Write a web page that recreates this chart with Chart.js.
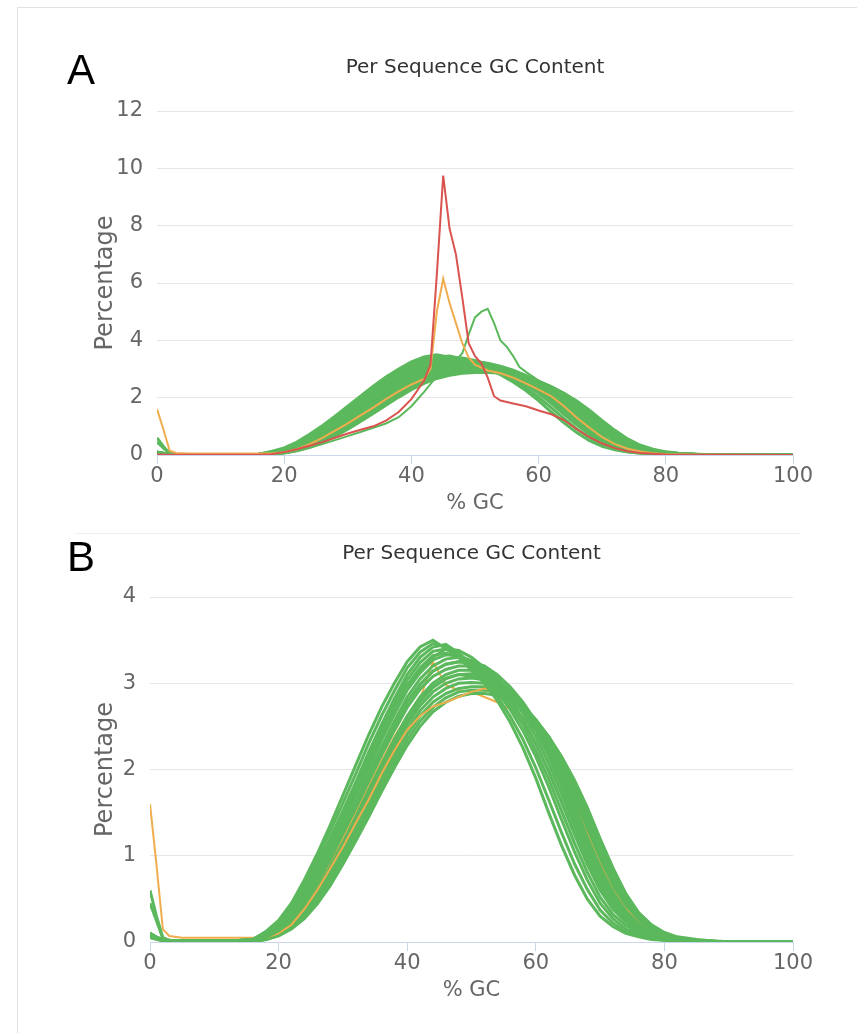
<!DOCTYPE html>
<html>
<head>
<meta charset="utf-8">
<script src="https://cdn.jsdelivr.net/npm/chart.js@4.4.1/dist/chart.umd.min.js"></script>
<style>
  html, body { margin: 0; padding: 0; background: #fff; }
  #wrap { position: relative; width: 857px; height: 1033px; overflow: hidden; }
  .frame { position: absolute; left: 17px; top: 7px; width: 860px; height: 1040px; border-left: 1px solid #e2e2e2; border-top: 1px solid #e2e2e2; }
  .sep { position: absolute; left: 75px; top: 533px; width: 725px; height: 1px; background: #f0f0f0; }
  .panel { position: absolute; font-family: "Liberation Sans", Arial, sans-serif; font-size: 42px; line-height: 42px; color: #000; }
  canvas { position: absolute; left: 0; }
</style>
</head>
<body>
<div id="wrap">
  <div class="frame"></div>
  <div class="sep"></div>
  <canvas id="cA" width="857" height="520" style="top:0"></canvas>
  <canvas id="cB" width="857" height="513" style="top:520px"></canvas>
  <div class="panel" style="left:67px; top:49px;">A</div>
  <div class="panel" style="left:67px; top:536px;">B</div>
</div>
<script>
// ---------- DATA ----------
const chartTitle = "Per Sequence GC Content";
const xAxisTitle = "% GC";
const yAxisTitle = "Percentage";
const xTicks = [0, 20, 40, 60, 80, 100];
const yTicksA = [0, 2, 4, 6, 8, 10, 12];
const yTicksB = [0, 1, 2, 3, 4];

// shared %GC grid for the sample curves
const gcX = [0,1,2,3,5,8,12,16, 18,20,22,24,26,28,30,32,34,36,38,40, 42,44,46,48,50,52,54,56,58,60, 62,64,66,68,70,72,74,76,78,80,82, 85,88,92,100];

// passing samples (green)
const green01 = [0.6,0.3,0.05,0.02,0.01,0.01,0.01,0.03, 0.12,0.25,0.45,0.72,1.02,1.35,1.7,2.05,2.4,2.72,3.0,3.25, 3.42,3.5,3.4,3.3,3.15,3.0,2.8,2.55,2.25,1.9, 1.5,1.12,0.78,0.5,0.3,0.18,0.1,0.06,0.03,0.02,0.01, 0,0,0,0];
const green02 = [0.45,0.25,0.04,0.02,0.01,0.01,0.01,0.03, 0.1,0.2,0.38,0.62,0.9,1.2,1.52,1.85,2.2,2.52,2.82,3.1, 3.3,3.42,3.45,3.35,3.22,3.08,2.9,2.7,2.45,2.15, 1.8,1.42,1.05,0.72,0.45,0.27,0.15,0.09,0.05,0.03,0.01, 0,0,0,0];
const green03 = [0.1,0.06,0.03,0.01,0.01,0.01,0.01,0.02, 0.08,0.18,0.33,0.55,0.82,1.1,1.42,1.75,2.08,2.4,2.7,2.98, 3.18,3.32,3.35,3.3,3.22,3.12,2.98,2.8,2.58,2.3, 1.98,1.62,1.25,0.9,0.6,0.38,0.23,0.13,0.08,0.05,0.02, 0.01,0,0,0];
const green04 = [0.1,0.05,0.02,0.01,0.01,0.01,0.01,0.02, 0.06,0.15,0.3,0.5,0.75,1.02,1.32,1.62,1.95,2.26,2.56,2.84, 3.05,3.2,3.28,3.3,3.26,3.18,3.06,2.9,2.7,2.45, 2.15,1.8,1.42,1.05,0.72,0.46,0.28,0.16,0.09,0.05,0.03, 0.01,0,0,0];
const green05 = [0.08,0.04,0.02,0.01,0.01,0.01,0.01,0.02, 0.05,0.13,0.26,0.45,0.68,0.95,1.25,1.55,1.86,2.16,2.45,2.72, 2.93,3.08,3.16,3.2,3.2,3.15,3.05,2.9,2.72,2.5, 2.22,1.9,1.55,1.18,0.84,0.55,0.34,0.2,0.11,0.06,0.03, 0.01,0,0,0];
const green06 = [0.1,0.05,0.02,0.01,0.01,0.01,0.01,0.02, 0.05,0.11,0.23,0.4,0.62,0.87,1.15,1.45,1.76,2.06,2.35,2.62, 2.84,3.0,3.1,3.15,3.15,3.12,3.04,2.92,2.76,2.55, 2.3,2.0,1.65,1.28,0.92,0.62,0.39,0.23,0.13,0.07,0.04, 0.01,0,0,0];
const green07 = [0.1,0.05,0.02,0.01,0.01,0.01,0.01,0.01, 0.04,0.1,0.2,0.36,0.56,0.8,1.07,1.36,1.66,1.96,2.25,2.52, 2.74,2.9,3.0,3.05,3.06,3.04,2.98,2.88,2.74,2.56, 2.33,2.05,1.72,1.36,1.0,0.68,0.44,0.27,0.15,0.08,0.04, 0.02,0,0,0];
const green08 = [0.1,0.05,0.02,0.01,0.01,0.01,0.01,0.01, 0.03,0.08,0.17,0.31,0.5,0.72,0.97,1.25,1.55,1.84,2.13,2.4, 2.62,2.78,2.88,2.94,2.96,2.96,2.93,2.86,2.74,2.58, 2.38,2.12,1.82,1.48,1.12,0.78,0.5,0.3,0.17,0.1,0.05, 0.02,0.01,0,0];
const green09 = [0.05,0.03,0.01,0.01,0.01,0.01,0.01,0.01, 0.03,0.07,0.15,0.27,0.44,0.65,0.9,1.17,1.45,1.74,2.02,2.28, 2.5,2.67,2.78,2.85,2.88,2.88,2.86,2.8,2.7,2.56, 2.38,2.15,1.88,1.56,1.2,0.86,0.56,0.34,0.2,0.11,0.06, 0.03,0.01,0,0];
const green10 = [0.1,0.05,0.02,0.01,0.01,0.01,0.01,0.02, 0.07,0.16,0.31,0.52,0.78,1.07,1.38,1.7,2.03,2.35,2.66,2.95, 3.16,3.3,3.4,3.38,3.3,3.18,3.02,2.82,2.58,2.3, 1.98,1.63,1.27,0.93,0.63,0.4,0.24,0.14,0.08,0.04,0.02, 0.01,0,0,0];
const green11 = [0.1,0.05,0.02,0.01,0.01,0.01,0.01,0.02, 0.06,0.14,0.28,0.48,0.72,0.99,1.28,1.59,1.9,2.2,2.5,2.78, 2.98,3.14,3.22,3.25,3.24,3.2,3.1,2.96,2.78,2.56, 2.28,1.96,1.6,1.22,0.87,0.58,0.36,0.21,0.12,0.07,0.03, 0.01,0,0,0];
const green12 = [0.1,0.05,0.02,0.01,0.01,0.01,0.01,0.01, 0.04,0.1,0.21,0.37,0.58,0.83,1.1,1.4,1.7,2.0,2.3,2.57, 2.8,2.96,3.06,3.1,3.08,3.05,2.98,2.86,2.7,2.5, 2.25,1.95,1.62,1.26,0.92,0.62,0.4,0.24,0.14,0.08,0.04, 0.02,0,0,0];
const green13 = [0.1,0.05,0.02,0.01,0.01,0.01,0.01,0.03, 0.09,0.19,0.36,0.58,0.86,1.15,1.47,1.8,2.14,2.46,2.76,3.04, 3.24,3.37,3.4,3.33,3.22,3.1,2.94,2.75,2.52,2.22, 1.89,1.52,1.15,0.81,0.52,0.32,0.19,0.11,0.06,0.04,0.02, 0,0,0,0];
const green14 = [0.1,0.05,0.02,0.01,0.01,0.01,0.01,0.02, 0.06,0.14,0.28,0.47,0.71,0.98,1.28,1.58,1.9,2.21,2.5,2.78, 2.99,3.14,3.22,3.25,3.23,3.16,3.06,2.9,2.71,2.48, 2.19,1.85,1.48,1.11,0.78,0.5,0.31,0.18,0.1,0.06,0.03, 0.01,0,0,0];
const green15 = [0.1,0.05,0.02,0.01,0.01,0.01,0.01,0.02, 0.04,0.1,0.21,0.38,0.59,0.83,1.11,1.4,1.71,2.01,2.3,2.57, 2.79,2.95,3.05,3.1,3.11,3.08,3.01,2.9,2.75,2.56, 2.32,2.03,1.69,1.32,0.96,0.65,0.42,0.25,0.14,0.08,0.04, 0.01,0,0,0];
const green16 = [0.1,0.05,0.02,0.01,0.01,0.01,0.01,0.01, 0.03,0.09,0.18,0.33,0.53,0.76,1.02,1.3,1.6,1.9,2.19,2.46, 2.68,2.84,2.94,3.0,3.01,3.0,2.96,2.87,2.74,2.57, 2.36,2.09,1.77,1.42,1.06,0.73,0.47,0.28,0.16,0.09,0.05, 0.02,0,0,0];
const green17 = [0.08,0.04,0.02,0.01,0.01,0.01,0.01,0.01, 0.03,0.075,0.16,0.29,0.47,0.68,0.93,1.21,1.5,1.79,2.07,2.34, 2.56,2.72,2.83,2.9,2.92,2.92,2.9,2.83,2.72,2.57, 2.38,2.14,1.85,1.52,1.16,0.82,0.53,0.32,0.18,0.1,0.05, 0.02,0.01,0,0];
const green18 = [0.1,0.05,0.02,0.01,0.01,0.01,0.01,0.03, 0.11,0.22,0.41,0.67,0.96,1.28,1.61,1.95,2.3,2.62,2.91,3.18, 3.36,3.46,3.42,3.32,3.18,3.04,2.85,2.62,2.35,2.02, 1.65,1.27,0.91,0.61,0.37,0.22,0.12,0.07,0.04,0.02,0.01, 0,0,0,0];
const green19 = [0.1,0.05,0.02,0.01,0.01,0.01,0.01,0.02, 0.07,0.17,0.32,0.53,0.8,1.08,1.38,1.7,2.02,2.34,2.64,2.92, 3.12,3.27,3.33,3.32,3.26,3.16,3.03,2.86,2.65,2.38, 2.07,1.72,1.35,0.98,0.67,0.43,0.26,0.15,0.09,0.05,0.02, 0.01,0,0,0];

// warning samples (orange) in panel B
const orangeB1 = [1.6,0.9,0.15,0.07,0.05,0.05,0.05,0.05, 0.05,0.1,0.2,0.38,0.6,0.85,1.1,1.38,1.65,1.95,2.22,2.46, 2.62,2.73,2.78,2.84,2.9,2.94,2.9,2.8,2.68,2.5, 2.28,1.95,1.6,1.25,0.9,0.6,0.38,0.22,0.12,0.07,0.03, 0.01,0,0,0];
const orangeB2 = [0.1,0.05,0.02,0.01,0.01,0.01,0.01,0.02, 0.05,0.12,0.25,0.43,0.66,0.92,1.2,1.5,1.8,2.1,2.38,2.62, 2.82,3.25,2.98,2.92,2.9,2.84,2.78,2.7,2.6,2.45, 2.22,1.95,1.62,1.26,0.92,0.62,0.4,0.24,0.14,0.08,0.04, 0.02,0,0,0];

// panel A special samples
const orangeAX = [0,1,2,3,5,10,16,18,20,22,24,26,28,30,32,34,36,38,40,42,43,44,45,46,47,48,49,50,52,54,56,58,60,62,64,66,68,70,72,74,76,78,80,85,100];
const orangeAY = [1.6,0.9,0.15,0.07,0.05,0.05,0.05,0.05,0.1,0.2,0.38,0.6,0.85,1.1,1.38,1.65,1.95,2.22,2.46,2.65,3.0,5.0,6.15,5.3,4.6,3.9,3.4,3.15,2.95,2.85,2.7,2.5,2.28,2.05,1.7,1.3,0.95,0.62,0.38,0.22,0.12,0.06,0.03,0.01,0];
const redAX = [0,2,5,10,16,18,20,22,24,26,28,30,32,34,36,38,40,42,43,44,45,46,47,48,49,50,51,52,53,54,56,58,60,62,64,66,68,70,72,74,76,78,80,85,100];
const redAY = [0.02,0.01,0.01,0.01,0.01,0.03,0.1,0.2,0.32,0.45,0.6,0.75,0.88,1.0,1.2,1.5,1.95,2.6,3.15,6.3,9.75,7.9,7.0,5.5,3.9,3.45,3.2,2.7,2.05,1.9,1.8,1.7,1.55,1.42,1.22,0.9,0.62,0.4,0.24,0.13,0.07,0.04,0.02,0.01,0];
const greenBumpAX = [0,2,5,10,16,18,20,22,24,26,28,30,32,34,36,38,40,42,44,46,47,48,49,50,51,52,53,54,55,56,57,58,60,62,64,66,68,70,72,74,76,78,80,85,100];
const greenBumpAY = [0.1,0.02,0.01,0.01,0.01,0.03,0.07,0.14,0.25,0.38,0.52,0.66,0.8,0.95,1.1,1.32,1.7,2.2,2.75,3.1,3.3,3.55,4.2,4.8,5.0,5.1,4.6,4.0,3.77,3.45,3.07,2.9,2.6,2.3,1.95,1.55,1.15,0.8,0.5,0.3,0.17,0.09,0.05,0.01,0];

// ---------- STYLE ----------
const GREEN = "#5cb85c", ORANGE = "#f0ad4e", RED = "#d9534f";
const FONT = "'DejaVu Sans', Verdana, sans-serif";
const greensTop = [green01, green18, green02, green13, green03, green19, green10, green04, green14, green11, green05];
const greensBottom = [green06, green15, green12, green07, green16, green08, green17, green09];

function pts(xs, ys) { return xs.map((x, i) => ({ x: x, y: ys[i] })); }
function line(data, color, width) {
  return { data: data, borderColor: color, borderWidth: width, pointRadius: 0, tension: 0, fill: false };
}

function makeOptions(cfg) {
  return {
    responsive: false,
    animation: false,
    events: [],
    layout: { padding: { top: cfg.padTop, left: 80, right: 64, bottom: cfg.padBottom } },
    plugins: {
      legend: { display: false },
      tooltip: { enabled: false },
      title: {
        display: true, text: chartTitle, fullSize: false, color: "#333",
        font: { family: FONT, size: 20, weight: "normal", lineHeight: 1.2 },
        padding: { top: 0, bottom: 31 }
      }
    },
    scales: {
      x: {
        type: "linear", min: xTicks[0], max: xTicks[xTicks.length - 1],
        afterBuildTicks: s => { s.ticks = xTicks.map(v => ({ value: v })); },
        afterFit: s => { s.height = 65; },
        ticks: { color: "#666", padding: 0, autoSkip: false, maxRotation: 0, font: { family: FONT, size: 21 } },
        grid: { drawOnChartArea: false, drawTicks: true, tickLength: 9, color: "#ccd6eb", lineWidth: 1 },
        border: { display: true, color: "#ccd6eb", width: 1 },
        title: { display: true, text: xAxisTitle, color: "#666", font: { family: FONT, size: 21, lineHeight: 1.2 }, padding: { top: 0, bottom: 4 } }
      },
      y: {
        type: "linear", min: cfg.yTicks[0], max: cfg.yTicks[cfg.yTicks.length - 1],
        afterBuildTicks: s => { s.ticks = cfg.yTicks.map(v => ({ value: v })); },
        afterFit: s => { s.width = cfg.yWidth; },
        ticks: { color: "#666", padding: 14, font: { family: FONT, size: 21 } },
        grid: { color: "#e6e6e6", lineWidth: 1, drawTicks: false },
        border: { display: false },
        title: { display: true, text: yAxisTitle, color: "#666", font: { family: FONT, size: 24, lineHeight: 1.2 }, padding: { top: 11, bottom: 0 } }
      }
    }
  };
}

// Panel A: first dataset is drawn on top
const dsA = [
  line(pts(redAX, redAY), RED, 2),
  line(pts(orangeAX, orangeAY), ORANGE, 2),
  line(pts(greenBumpAX, greenBumpAY), GREEN, 2)
].concat(greensTop.concat(greensBottom).map(g => line(pts(gcX, g), GREEN, 3)));

new Chart(document.getElementById("cA"), {
  type: "line",
  data: { datasets: dsA },
  options: makeOptions({ padTop: 56, padBottom: 0, yWidth: 77, yTicks: yTicksA })
});

// Panel B
const dsB = []
  .concat(greensTop.map(g => line(pts(gcX, g), GREEN, 3)))
  .concat([line(pts(gcX, orangeB1), ORANGE, 2)])
  .concat(greensBottom.map(g => line(pts(gcX, g), GREEN, 3)))
  .concat([line(pts(gcX, orangeB2), ORANGE, 2)]);

new Chart(document.getElementById("cB"), {
  type: "line",
  data: { datasets: dsB },
  options: makeOptions({ padTop: 22, padBottom: 26, yWidth: 70, yTicks: yTicksB })
});
</script>
</body>
</html>
